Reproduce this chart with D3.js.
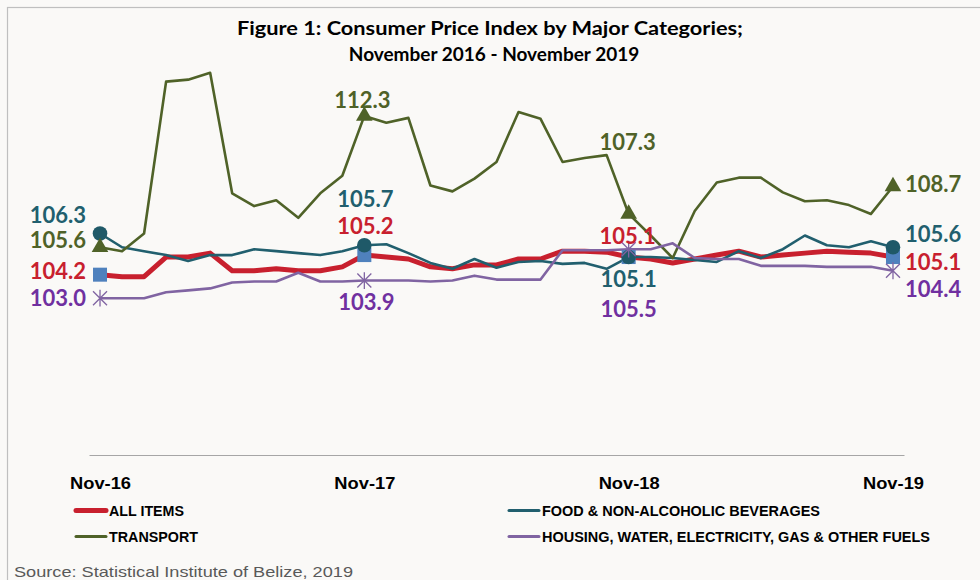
<!DOCTYPE html>
<html><head><meta charset="utf-8">
<script src="https://cdn.jsdelivr.net/npm/d3@7"></script>
<style>
html,body{margin:0;padding:0;background:#faf9f7;}
svg{display:block;}
</style></head>
<body>
<svg id="chart" width="980" height="580"></svg>
<script>
// ---------- DATA ----------
const months = ["Nov-16","Dec-16","Jan-17","Feb-17","Mar-17","Apr-17","May-17","Jun-17","Jul-17","Aug-17","Sep-17","Oct-17",
  "Nov-17","Dec-17","Jan-18","Feb-18","Mar-18","Apr-18","May-18","Jun-18","Jul-18","Aug-18","Sep-18","Oct-18",
  "Nov-18","Dec-18","Jan-19","Feb-19","Mar-19","Apr-19","May-19","Jun-19","Jul-19","Aug-19","Sep-19","Oct-19","Nov-19"];
const tickLabels = ["Nov-16","Nov-17","Nov-18","Nov-19"];

const allItems = [104.2,104.1,104.1,105.1,105.1,105.3,104.4,104.4,104.5,104.4,104.4,104.6,
  105.2,105.1,105.0,104.6,104.5,104.7,104.7,105.0,105.0,105.4,105.4,105.35,
  105.1,105.0,104.8,105.0,105.2,105.4,105.1,105.2,105.3,105.4,105.35,105.3,105.1];
const food = [106.3,105.6,105.4,105.2,104.9,105.2,105.2,105.5,105.4,105.3,105.2,105.4,
  105.7,105.75,105.3,104.8,104.5,105.0,104.55,104.85,104.9,104.75,104.8,104.5,
  105.1,105.1,105.05,104.95,104.85,105.4,105.05,105.5,106.2,105.7,105.6,105.9,105.6];
const transport = [105.6,105.4,106.3,114.05,114.15,114.5,108.35,107.7,108.0,107.1,108.35,109.25,
  112.3,111.95,112.2,108.75,108.45,109.1,109.95,112.5,112.15,109.95,110.15,110.3,
  107.3,106.2,105.05,107.45,108.9,109.15,109.15,108.4,107.95,108.0,107.75,107.3,108.7];
const housing = [103.0,103.0,103.0,103.3,103.4,103.5,103.8,103.85,103.85,104.3,103.85,103.85,
  103.9,103.9,103.9,103.85,103.9,104.15,103.95,103.95,103.95,105.45,105.45,105.45,
  105.5,105.5,105.8,105.05,105.0,105.0,104.65,104.65,104.65,104.6,104.6,104.6,104.4];

const seriesNames = ["ALL ITEMS","FOOD & NON-ALCOHOLIC BEVERAGES","TRANSPORT","HOUSING, WATER, ELECTRICITY, GAS & OTHER FUELS"];
const labelIdx = [0,12,24,36];
const labelText = {
  allItems: ["104.2","105.2","105.1","105.1"],
  food: ["106.3","105.7","105.1","105.6"],
  transport: ["105.6","112.3","107.3","108.7"],
  housing: ["103.0","103.9","105.5","104.4"]
};
const yDomain = [95, 115];

// ---------- STYLE / LAYOUT ----------
const series = [
  {key:"allItems", values:allItems, name:seriesNames[0], color:"#c8202e", text:"#c8202e", width:5, marker:"square", markerColor:"#4f81bd"},
  {key:"food", values:food, name:seriesNames[1], color:"#215f6e", text:"#215f6e", width:2.6, marker:"circle", markerColor:"#1f5968"},
  {key:"transport", values:transport, name:seriesNames[2], color:"#4f6228", text:"#4f6228", width:2.6, marker:"triangle", markerColor:"#4f6228"},
  {key:"housing", values:housing, name:seriesNames[3], color:"#8064a2", text:"#7030a0", width:2.6, marker:"star", markerColor:"#8064a2"}
];
// label offsets (dx, dy, anchor) per series per labelled point
const labelOffsets = {
  allItems: [[-14,-4,"end"],[1,-30,"middle"],[-1,-22,"middle"],[12,4,"start"]],
  food: [[-14,-19,"end"],[1,-47,"middle"],[0,21,"middle"],[12,-14,"start"]],
  transport: [[-14,-8,"end"],[-2,-16,"middle"],[-1,-72,"middle"],[12,-3,"start"]],
  housing: [[-14,-1,"end"],[2,21,"middle"],[0,59,"middle"],[12,18,"start"]]
};

const svg = d3.select("#chart");
svg.append("rect").attr("x",7.5).attr("y",7.5).attr("width",1000).attr("height",1000)
  .attr("fill","#faf9f7").attr("stroke","#bfbfbf").attr("stroke-width",1.2);

const x = d3.scalePoint().domain(months).range([89,904]).padding(0.5);
const y = d3.scaleLinear().domain(yDomain).range([455,63]);

// title
const title = svg.append("g").attr("font-family","Lato, 'Open Sans', sans-serif").attr("font-weight","bold")
  .attr("fill","#000").attr("text-anchor","middle");
title.append("text").attr("x",490).attr("y",27).attr("dominant-baseline","central").attr("font-size",19)
  .attr("textLength",506).attr("lengthAdjust","spacingAndGlyphs")
  .text("Figure 1: Consumer Price Index by Major Categories;");
title.append("text").attr("x",494).attr("y",53).attr("dominant-baseline","central").attr("font-size",19)
  .text("November 2016 - November 2019");

// x axis
const xAxis = d3.axisBottom(x).tickValues(tickLabels).tickSize(0).tickSizeOuter(0).tickPadding(22);
const gx = svg.append("g").attr("transform","translate(0,455)").call(xAxis);
gx.select(".domain").attr("stroke","#a6a6a6").attr("stroke-width",1);
gx.selectAll(".tick text").attr("font-family","'Liberation Sans Narrow','Arial Narrow','Liberation Sans',sans-serif")
  .attr("font-weight","bold").attr("font-size",17).attr("fill","#000")
  .attr("textLength",61).attr("lengthAdjust","spacingAndGlyphs");

// lines
const line = d3.line().x((d,i)=>x(months[i])).y(d=>y(d));
series.forEach(s=>{
  svg.append("path").datum(s.values).attr("d",line).attr("fill","none")
    .attr("stroke",s.color).attr("stroke-width",s.width).attr("stroke-linejoin","round").attr("stroke-linecap","butt");
});

// markers
series.forEach(s=>{
  const g = svg.append("g");
  labelIdx.forEach(i=>{
    const cx = x(months[i]), cy = y(s.values[i]);
    if(s.marker==="square"){
      g.append("rect").attr("x",cx-7).attr("y",cy-7).attr("width",14).attr("height",14).attr("fill",s.markerColor);
    } else if(s.marker==="circle"){
      g.append("circle").attr("cx",cx).attr("cy",cy).attr("r",7.3).attr("fill",s.markerColor);
    } else if(s.marker==="triangle"){
      g.append("path").attr("d",d3.symbol(d3.symbolTriangle,120)()).attr("transform",`translate(${cx},${cy})`).attr("fill",s.markerColor);
    } else {
      const r=7;
      g.append("path").attr("d",`M${cx-r},${cy-r}L${cx+r},${cy+r}M${cx-r},${cy+r}L${cx+r},${cy-r}M${cx},${cy-r*1.2}L${cx},${cy+r*1.2}`)
        .attr("stroke",s.markerColor).attr("stroke-width",1.3).attr("fill","none");
    }
  });
});

// data labels
series.forEach(s=>{
  labelIdx.forEach((i,k)=>{
    const o = labelOffsets[s.key][k];
    svg.append("text").attr("x",x(months[i])+o[0]).attr("y",y(s.values[i])+o[1])
      .attr("text-anchor",o[2]).attr("dominant-baseline","central")
      .attr("font-family","Lato, 'Open Sans', sans-serif").attr("font-weight","bold").attr("font-size",22)
      .attr("fill",s.text).text(labelText[s.key][k]);
  });
});

// legend
const legendPos = [[76,510.5],[509,510.5],[76,536.5],[509,536.5]];
const legendTextLen = [75,278,89,388];
series.forEach((s,k)=>{
  const [lx,ly] = legendPos[k];
  svg.append("line").attr("x1",lx).attr("x2",lx+30).attr("y1",ly).attr("y2",ly)
    .attr("stroke",s.color).attr("stroke-width",s.key==="allItems"?5:3).attr("stroke-linecap","round");
  svg.append("text").attr("x",lx+33).attr("y",ly).attr("dominant-baseline","central")
    .attr("font-family","'Liberation Sans Narrow','Arial Narrow','Liberation Sans',sans-serif")
    .attr("font-weight","bold").attr("font-size",14.5).attr("fill","#000")
    .attr("textLength",legendTextLen[k]).attr("lengthAdjust","spacingAndGlyphs").text(s.name);
});

// source
svg.append("text").attr("x",14).attr("y",571).attr("dominant-baseline","central")
  .attr("font-family","'Liberation Sans','Arial',sans-serif").attr("font-size",15).attr("fill","#595959")
  .attr("textLength",339).attr("lengthAdjust","spacingAndGlyphs")
  .text("Source: Statistical Institute of Belize, 2019");
</script>
</body></html>
